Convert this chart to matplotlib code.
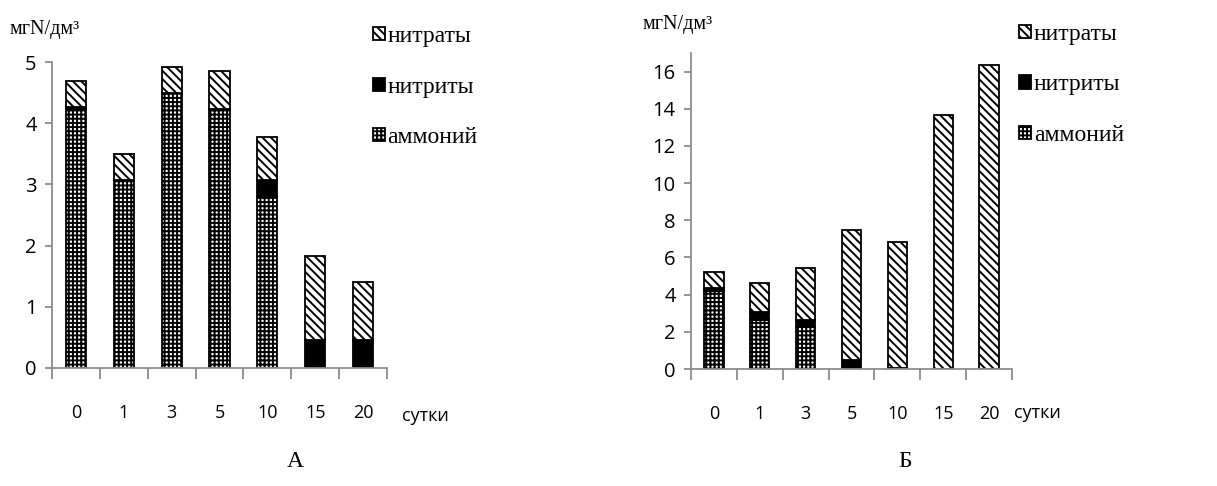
import numpy as np
import matplotlib.pyplot as plt

days = ["0", "1", "3", "5", "10", "15", "20"]

# panel A
ammonium_a = [4.23, 3.07, 4.49, 4.21, 2.80, 0.0, 0.0]
nitrite_a = [0.03, 0.01, 0.01, 0.02, 0.27, 0.45, 0.45]
nitrate_a = [0.43, 0.42, 0.42, 0.62, 0.70, 1.38, 0.95]

# panel B
ammonium_b = [4.20, 2.65, 2.25, 0.0, 0.0, 0.0, 0.0]
nitrite_b = [0.15, 0.40, 0.40, 0.46, 0.08, 0.0, 0.0]
nitrate_b = [0.88, 1.60, 2.80, 7.03, 6.75, 13.65, 16.33]

plt.rcParams["hatch.linewidth"] = 1.4
serif = "Liberation Serif"
sans = "Open Sans"
grey = "#8c8c8c"

fig = plt.figure(figsize=(12.17, 4.86), dpi=100)
axA = fig.add_axes([0.0427, 0.2428, 0.2753, 0.6296])
axB = fig.add_axes([0.5678, 0.2407, 0.2638, 0.6503])


def draw(ax, amm, nit, nitr, ymax, ystep):
    x = np.arange(len(days))
    w = 0.42
    b1 = ax.bar(x, amm, w, color="white", edgecolor="black", hatch="++++", lw=1.3)
    b2 = ax.bar(x, nit, w, bottom=amm, color="black", edgecolor="black", lw=1.3)
    bot = np.array(amm) + np.array(nit)
    b3 = ax.bar(x, nitr, w, bottom=bot, color="white", edgecolor="black", hatch="\\\\\\\\", lw=1.3)
    ax.set_xlim(-0.5, len(days) - 0.5)
    ax.set_ylim(0, ymax)
    ax.set_yticks(np.arange(0, ymax + 0.01, ystep))
    ax.set_xticks(x)
    ax.set_xticklabels(days)
    ax.set_xticks(np.arange(-0.5, len(days)), minor=True)
    ax.tick_params(axis="x", which="major", length=0, pad=26, labelsize=13)
    ax.tick_params(axis="x", which="minor", length=8, width=1.3, color=grey, direction="out")
    ax.tick_params(axis="y", length=5, width=1.3, color=grey, labelsize=14.5, pad=6)
    for lab in ax.get_xticklabels() + ax.get_yticklabels():
        lab.set_family(sans)
    for s in ["top", "right"]:
        ax.spines[s].set_visible(False)
    for s in ["left", "bottom"]:
        ax.spines[s].set_color(grey)
        ax.spines[s].set_linewidth(1.3)
    return b1, b2, b3


hA = draw(axA, ammonium_a, nitrite_a, nitrate_a, 5, 1)
hB = draw(axB, ammonium_b, nitrite_b, nitrate_b, 17, 2)

labels = ["нитраты", "нитриты", "аммоний"]
for ax, h, xa, ya in [(axA, hA, 0.289, 0.99), (axB, hB, 0.820, 0.995)]:
    fig.legend([h[2], h[1], h[0]], labels, loc="upper left",
               bbox_to_anchor=(xa, ya), frameon=False,
               prop={"family": serif, "size": 17}, handlelength=0.5,
               handleheight=0.5, handletextpad=0.12, labelspacing=1.25)

fig.text(0.008, 0.94, "мгN/дм³", family=serif, fontsize=14.5, va="center")
fig.text(0.528, 0.95, "мгN/дм³", family=serif, fontsize=14.5, va="center")
fig.text(0.330, 0.145, "сутки", family=sans, fontsize=13, va="center")
fig.text(0.833, 0.150, "сутки", family=sans, fontsize=13, va="center")
fig.text(0.243, 0.05, "А", family=serif, fontsize=17, ha="center", va="center")
fig.text(0.744, 0.05, "Б", family=serif, fontsize=17, ha="center", va="center")

fig.savefig("out.png", dpi=100)
